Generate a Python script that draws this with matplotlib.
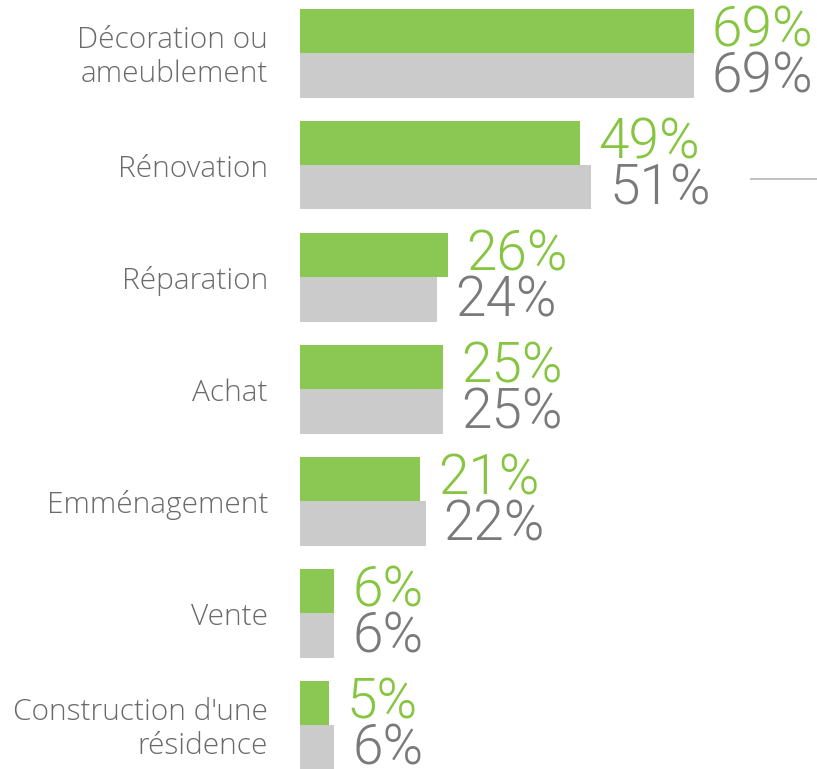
import matplotlib
matplotlib.use("Agg")
import matplotlib.pyplot as plt
from matplotlib import font_manager

categories = ["Décoration ou\nameublement", "Rénovation", "Réparation", "Achat",
              "Emménagement", "Vente", "Construction d'une\nrésidence"]
green_vals = [69, 49, 26, 25, 21, 6, 5]
gray_vals = [69, 51, 24, 25, 22, 6, 6]

GREEN = "#8bc853"
GRAY_BAR = "#cbcbcb"
GREEN_TXT = "#86c540"
GRAY_TXT = "#7a7a7a"
LABEL_TXT = "#6a6a6a"

fams = {f.name for f in font_manager.fontManager.ttflist}
labfam = "Open Sans" if "Open Sans" in fams else "DejaVu Sans"
numfam = "Roboto" if "Roboto" in fams else "DejaVu Sans"
plt.rcParams['font.family'] = [labfam, 'DejaVu Sans']

W, H = 817, 769
fig = plt.figure(figsize=(W / 100, H / 100), dpi=100)
ax = fig.add_axes([300 / W, 0, 1 - 300 / W, 1])

pitch = 112.0
bh = 44.5 / pitch
ypos = list(range(len(categories)))
ax.barh([y - bh / 2 for y in ypos], green_vals, height=bh, color=GREEN, linewidth=0)
ax.barh([y + bh / 2 for y in ypos], gray_vals, height=bh, color=GRAY_BAR, linewidth=0)

scale = 5.71
ax.set_xlim(0, (W - 300) / scale)
ax.set_ylim(6 + (H - 725) / pitch, -53 / pitch)

for y, gv, rv in zip(ypos, green_vals, gray_vals):
    ax.text(gv + 18 / scale, y - bh / 2, f"{gv}%", color=GREEN_TXT, fontsize=39.5,
            family=[numfam, 'DejaVu Sans'], fontweight=300, va='center', ha='left')
    ax.text(rv + 18 / scale, y + bh / 2 + 0.02, f"{rv}%", color=GRAY_TXT, fontsize=39.5,
            family=[numfam, 'DejaVu Sans'], fontweight=300, va='center', ha='left')
    ax.text(-32 / scale, y + 4 / pitch, categories[ypos.index(y)], color=LABEL_TXT,
            fontsize=21.5, fontweight=300, va='center', ha='right', linespacing=1.2,
            clip_on=False)

fig.add_artist(plt.Line2D([751 / W, 1.0], [1 - 178.5 / H, 1 - 178.5 / H],
                          color="#bbbbbb", lw=1.3, transform=fig.transFigure))

ax.axis('off')
fig.savefig("out.png", dpi=100)
